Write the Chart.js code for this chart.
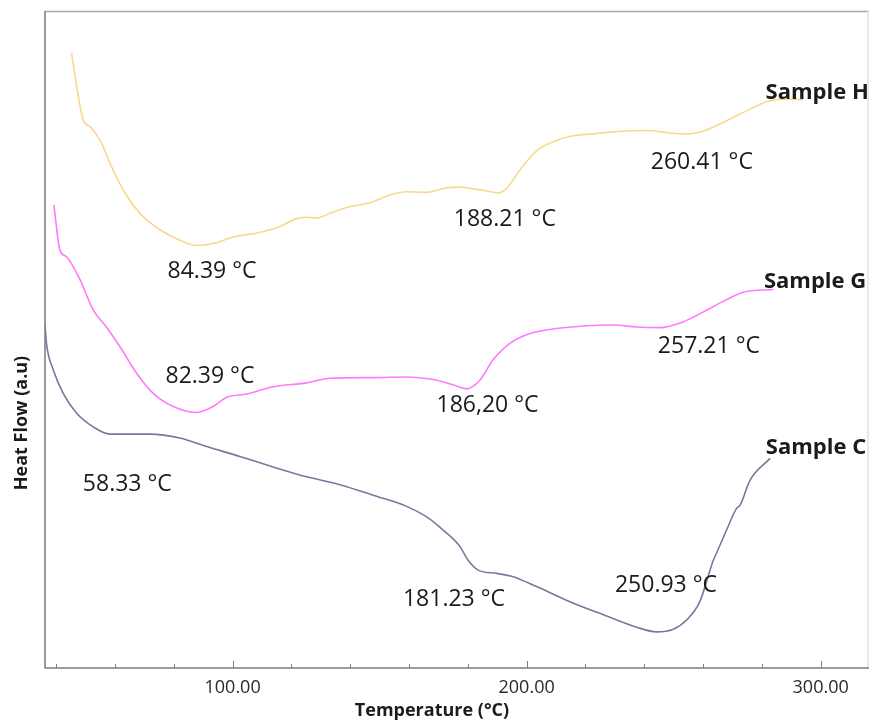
<!DOCTYPE html>
<html>
<head>
<meta charset="utf-8">
<script src="https://cdn.jsdelivr.net/npm/chart.js@4"></script>
<style>
  html, body { margin: 0; padding: 0; background: #fff; }
  #wrap { width: 869px; height: 722px; }
</style>
</head>
<body>
<div id="wrap"><canvas id="dsc"></canvas></div>
<script>
// DSC thermograms: temperature (°C) against heat flow (a.u.)
const tempH = [45.2, 49.2, 51.5, 55.4, 58.8, 63.4, 68.5, 75.3, 82.1, 87.8, 93.4, 100.2, 108.2, 116.1, 121.8, 125.2, 128.6, 133.1, 138.8, 146.7, 153.5, 159.2, 166.0, 172.8, 177.3, 180.7, 186.4, 190.3, 193.2, 197.7, 203.4, 209.0, 215.9, 222.7, 229.5, 240.8, 247.6, 254.4, 261.2, 268.0, 274.8, 281.6, 288.4, 294.1];
const flowH = [93.6, 83.4, 82.4, 79.9, 76.3, 72.3, 69.2, 66.7, 65.1, 64.3, 64.6, 65.6, 66.2, 67.2, 68.4, 68.6, 68.5, 69.2, 70.1, 70.8, 72.0, 72.5, 72.4, 73.1, 73.2, 73.0, 72.6, 72.3, 73.0, 75.8, 78.7, 80.1, 81.0, 81.3, 81.6, 81.8, 81.5, 81.3, 81.9, 83.3, 84.8, 86.2, 86.6, 86.5];

const tempG = [39.2, 41.3, 43.5, 48.1, 52.6, 57.1, 61.7, 67.3, 73.0, 79.8, 87.8, 93.4, 98.0, 104.8, 113.8, 125.2, 133.1, 147.8, 159.2, 168.2, 175.0, 179.6, 184.1, 188.6, 194.3, 201.1, 209.0, 220.4, 229.5, 237.4, 245.3, 253.3, 260.1, 266.9, 273.7, 283.9];
const flowG = [70.5, 63.6, 62.6, 59.1, 54.5, 51.9, 48.9, 44.9, 41.8, 39.8, 38.9, 39.8, 41.2, 41.7, 42.8, 43.4, 44.1, 44.2, 44.3, 43.9, 43.1, 42.5, 43.8, 46.9, 49.4, 50.9, 51.6, 52.1, 52.2, 51.9, 51.8, 52.7, 54.2, 55.8, 57.2, 57.6];

const tempC = [36.2, 36.7, 39.0, 42.4, 46.9, 52.6, 58.3, 65.1, 71.9, 82.1, 91.2, 102.5, 113.8, 125.2, 136.5, 147.8, 159.2, 166.0, 171.6, 177.3, 180.1, 183.5, 189.8, 195.4, 203.4, 214.7, 226.1, 237.4, 244.2, 249.9, 254.4, 258.9, 263.5, 264.6, 268.0, 271.4, 272.6, 276.0, 282.8];
const flowC = [52.2, 49.4, 45.4, 41.8, 38.8, 36.7, 35.6, 35.6, 35.6, 35.0, 33.7, 32.2, 30.6, 29.1, 27.9, 26.3, 24.6, 23.0, 21.0, 18.5, 16.4, 14.9, 14.4, 13.9, 12.4, 10.1, 8.1, 6.2, 5.5, 5.9, 7.3, 10.1, 16.4, 17.5, 21.0, 24.3, 24.8, 28.6, 31.9];

const xTicks = [100, 200, 300];
const sampleNames = ["Sample H", "Sample G", "Sample C"];

// peak labels: [text, temperature, heat flow]
const peakLabels = [
  ["84.39 °C", 93.0, 60.4],
  ["188.21 °C", 192.6, 68.2],
  ["260.41 °C", 259.6, 76.9],
  ["82.39 °C", 92.3, 44.4],
  ["186,20 °C", 186.7, 40.0],
  ["257.21 °C", 262.0, 48.9],
  ["58.33 °C", 64.2, 27.9],
  ["181.23 °C", 175.3, 10.5],
  ["250.93 °C", 247.4, 12.5]
];
// curve names sit at the right end of each trace
const namePos = [[298.8, 87.5], [298.1, 58.8], [298.4, 33.6]];

function points(xs, ys) {
  return xs.map((x, i) => ({ x: x, y: ys[i] }));
}

const frame = {
  id: "frame",
  afterDraw(chart) {
    const ctx = chart.ctx;
    const a = chart.chartArea;
    const xs = chart.scales.x, ys = chart.scales.y;
    ctx.save();

    // box
    ctx.lineWidth = 1.5;
    ctx.strokeStyle = "#a8a8a8";
    ctx.beginPath(); ctx.moveTo(a.left, a.top + 0.5); ctx.lineTo(a.right + 1, a.top + 0.5); ctx.stroke();
    ctx.strokeStyle = "#e2e2e2";
    ctx.beginPath(); ctx.moveTo(a.right, a.top); ctx.lineTo(a.right, a.bottom); ctx.stroke();
    ctx.strokeStyle = "#7c7c7c";
    ctx.beginPath(); ctx.moveTo(a.left, a.top); ctx.lineTo(a.left, a.bottom); ctx.lineTo(a.right + 1, a.bottom); ctx.stroke();

    // inward ticks on the temperature axis
    ctx.lineWidth = 1;
    ctx.strokeStyle = "#7c7c7c";
    for (let t = 40; t <= 300; t += 20) {
      const px = Math.round(xs.getPixelForValue(t)) + 0.5;
      const len = t % 100 === 0 ? 7 : 4;
      ctx.beginPath(); ctx.moveTo(px, a.bottom); ctx.lineTo(px, a.bottom - len); ctx.stroke();
    }

    ctx.fillStyle = "#1b1b1b";
    ctx.textAlign = "center";
    ctx.textBaseline = "middle";

    ctx.font = '23px "Open Sans"';
    peakLabels.forEach(p => {
      ctx.fillText(p[0], xs.getPixelForValue(p[1]), ys.getPixelForValue(p[2]));
    });

    ctx.font = 'bold 22px "Open Sans"';
    sampleNames.forEach((n, i) => {
      ctx.fillText(n, xs.getPixelForValue(namePos[i][0]), ys.getPixelForValue(namePos[i][1]));
    });

    // axis titles
    ctx.font = 'bold 18px "Open Sans"';
    ctx.fillText("Temperature (°C)", 432, 711);
    ctx.translate(22, 423);
    ctx.rotate(-Math.PI / 2);
    ctx.fillText("Heat Flow (a.u)", 0, 0);
    ctx.restore();
  }
};

const lineStyle = { pointRadius: 0, borderWidth: 1.6, cubicInterpolationMode: "monotone", fill: false };

new Chart(document.getElementById("dsc"), {
  type: "line",
  data: {
    datasets: [
      Object.assign({ label: sampleNames[0], data: points(tempH, flowH), borderColor: "#f8d98e" }, lineStyle),
      Object.assign({ label: sampleNames[1], data: points(tempG, flowG), borderColor: "#ff78ff" }, lineStyle),
      Object.assign({ label: sampleNames[2], data: points(tempC, flowC), borderColor: "#77789c" }, lineStyle)
    ]
  },
  options: {
    responsive: true,
    maintainAspectRatio: false,
    animation: false,
    layout: { padding: { top: 11, right: 1, left: 0, bottom: 0 } },
    plugins: { legend: { display: false }, tooltip: { enabled: false } },
    scales: {
      x: {
        type: "linear",
        min: 36.2,
        max: 316.1,
        afterFit: s => { s.height = 54; },
        afterBuildTicks: s => { s.ticks = xTicks.map(v => ({ value: v })); },
        grid: { display: false, drawTicks: false },
        border: { display: false },
        ticks: {
          padding: 9,
          color: "#2a2a2a",
          font: { family: "Open Sans", size: 18 },
          callback: v => Number(v).toFixed(2)
        }
      },
      y: {
        min: 0,
        max: 100,
        afterFit: s => { s.width = 45; },
        grid: { display: false, drawTicks: false },
        border: { display: false },
        ticks: { display: false }
      }
    }
  },
  plugins: [frame]
});
</script>
</body>
</html>
